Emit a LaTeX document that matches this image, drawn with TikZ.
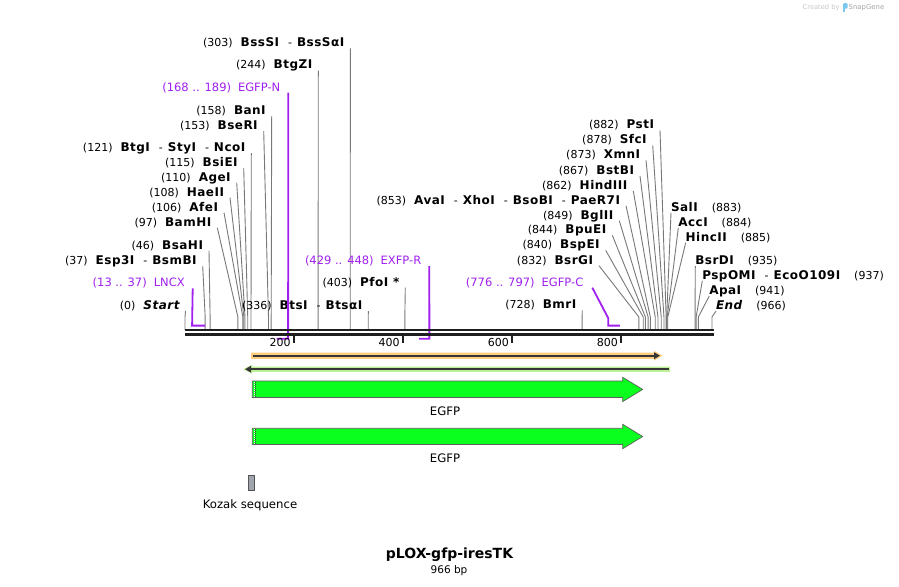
\documentclass[tikz,border=0pt]{standalone}
\usepackage{fontspec}
\setmainfont{DejaVu Sans}
\usetikzlibrary{calc,arrows.meta}
\definecolor{cutgray}{RGB}{120,120,120}
\definecolor{prim}{RGB}{160,32,240}
\definecolor{orangeband}{RGB}{255,204,128}
\definecolor{greenband}{RGB}{190,240,150}
\definecolor{egfpgreen}{RGB}{10,255,30}
\definecolor{darkline}{RGB}{55,55,55}
\definecolor{kozakgray}{RGB}{160,164,172}
\definecolor{sgray}{RGB}{200,200,200}
\definecolor{sblue}{RGB}{120,200,240}

\newcommand\enzn[1]{{\fontsize{12}{14}\selectfont\bfseries\addfontfeatures{LetterSpace=4}#1}}
\newcommand\esep{\hspace{9pt}-\hspace{5pt}}
\newcommand\nsep{\hspace{8pt}}
\newcommand\rsep{\hspace{14pt}}
\newcommand\bpx[1]{185+0.5455*#1}

% left-side cut site: id, bp, line-start x, label centre y, text
\newcommand\cutL[5]{%
  \node[lbl,anchor=base east] (#1) at ({#3-6},{#4+4.3}) {#5};
  \coordinate (#1p) at ({\bpx{#2}},317);
  \coordinate (#1q) at ({\bpx{#2}},330);
  \draw[cut] ($(#1.base east)+(6,1.7)$) -- (#1p) -- (#1q);
}
% right-side cut site
\newcommand\cutR[5]{%
  \node[lbl,anchor=base west] (#1) at (#3,{#4+4.3}) {#5};
  \coordinate (#1p) at ({\bpx{#2}},317);
  \coordinate (#1q) at ({\bpx{#2}},330);
  \draw[cut] ($(#1.base west)+(0,1.7)$) -- (#1p) -- (#1q);
}

\begin{document}
\begin{tikzpicture}[x=1pt,y=-1pt,
  lbl/.style={inner sep=0pt,outer sep=0pt,font=\fontsize{11}{13}\selectfont},
  plbl/.style={inner sep=0pt,outer sep=0pt,text=prim,font=\fontsize{11.5}{13}\selectfont},
  cut/.style={draw=cutgray,line width=0.9pt},
  primer/.style={draw=prim,line width=1.8pt},
  axisline/.style={draw=black!88,line width=2.4pt},
  tickmark/.style={draw=black!88,line width=2pt},
  feat/.style={fill=egfpgreen,draw=darkline!80,line width=0.7pt},
  flbl/.style={inner sep=0pt,font=\fontsize{11.7}{14}\selectfont}]

\useasboundingbox[fill=white] (0,0) rectangle (899,586);

% ---- cut sites, left-aligned labels ----
\cutL{bsssi}{303}{350.3}{42.3}{(303)\nsep\enzn{BssSI}\esep\enzn{BssSαI}}
\cutL{btgzi}{244}{318.3}{64.7}{(244)\nsep\enzn{BtgZI}}
\cutL{bani}{158}{271.7}{110}{(158)\nsep\enzn{BanI}}
\cutL{bseri}{153}{263.7}{125}{(153)\nsep\enzn{BseRI}}
\cutL{btgi}{121}{251.3}{147}{(121)\nsep\enzn{BtgI}\esep\enzn{StyI}\esep\enzn{NcoI}}
\cutL{bsiei}{115}{243.7}{162}{(115)\nsep\enzn{BsiEI}}
\cutL{agei}{110}{236.7}{176.7}{(110)\nsep\enzn{AgeI}}
\cutL{haeii}{108}{230}{191.7}{(108)\nsep\enzn{HaeII}}
\cutL{afei}{106}{224}{206.7}{(106)\nsep\enzn{AfeI}}
\cutL{bamhi}{97}{217.3}{221.7}{(97)\nsep\enzn{BamHI}}
\cutL{bsahi}{46}{209}{244.7}{(46)\nsep\enzn{BsaHI}}
\cutL{esp3i}{37}{202.7}{260}{(37)\nsep\enzn{Esp3I}\esep\enzn{BsmBI}}
\cutL{start}{0}{185.5}{305}{(0)\nsep\enzn{\itshape Start}}
\cutL{btsi}{336}{368.3}{305}{(336)\nsep\enzn{BtsI}\esep\enzn{BtsαI}}
\cutL{pfoi}{403}{405.3}{281.7}{(403)\nsep\enzn{PfoI *}}
\cutL{bmri}{728}{582.3}{304.3}{(728)\nsep\enzn{BmrI}}
\cutL{bsrgi}{832}{599}{259.7}{(832)\nsep\enzn{BsrGI}}
\cutL{bspei}{840}{605.7}{244.3}{(840)\nsep\enzn{BspEI}}
\cutL{bpuei}{844}{612.3}{229.3}{(844)\nsep\enzn{BpuEI}}
\cutL{bglii}{849}{619.3}{214.7}{(849)\nsep\enzn{BglII}}
\cutL{avai}{853}{626}{199.7}{(853)\nsep\enzn{AvaI}\esep\enzn{XhoI}\esep\enzn{BsoBI}\esep\enzn{PaeR7I}}
\cutL{hindiii}{862}{633.3}{185}{(862)\nsep\enzn{HindIII}}
\cutL{bstbi}{867}{640}{170}{(867)\nsep\enzn{BstBI}}
\cutL{xmni}{873}{646}{154.3}{(873)\nsep\enzn{XmnI}}
\cutL{sfci}{878}{652.7}{139.3}{(878)\nsep\enzn{SfcI}}
\cutL{psti}{882}{660}{124.3}{(882)\nsep\enzn{PstI}}

% ---- cut sites, right-aligned labels ----
\cutR{sali}{883}{671}{206.7}{\enzn{SalI}\rsep(883)}
\cutR{acci}{884}{678.3}{222}{\enzn{AccI}\rsep(884)}
\cutR{hincii}{885}{685.7}{236.7}{\enzn{HincII}\rsep(885)}
\cutR{bsrdi}{935}{695.3}{260}{\enzn{BsrDI}\rsep(935)}
\cutR{pspomi}{937}{702.3}{274.7}{\enzn{PspOMI}\esep\enzn{EcoO109I}\rsep(937)}
\cutR{apai}{941}{709.3}{290}{\enzn{ApaI}\rsep(941)}
\cutR{endsite}{966}{716}{305}{\enzn{\itshape End}\rsep(966)}

% ---- primers ----
\node[plbl,anchor=base east] (lncx) at (184.7,286.6) {(13 .. 37)\hspace{7pt}LNCX};
\coordinate (lncxA) at ({\bpx{13}},325.6);
\coordinate (lncxB) at ({\bpx{37}},325.6);
\draw[primer] ($(lncx.base east)+(8,1.7)$) -- (lncxA) -- (lncxB);

\node[plbl,anchor=base east] (egfpn) at (280.3,91) {(168 .. 189)\hspace{7pt}EGFP-N};
\coordinate (egfpnA) at ({\bpx{168}},338.7);
\coordinate (egfpnB) at ({\bpx{189}},338.7);
\draw[primer] ($(egfpn.base east)+(8,1.7)$) -- (egfpnB) -- (egfpnA);

\node[plbl,anchor=base east] (exfpr) at (421.3,264.3) {(429 .. 448)\hspace{7pt}EXFP-R};
\coordinate (exfprA) at ({\bpx{429}},338.7);
\coordinate (exfprB) at ({\bpx{448}},338.7);
\draw[primer] ($(exfpr.base east)+(8,1.7)$) -- (exfprB) -- (exfprA);

\node[plbl,anchor=base east] (egfpc) at (583.3,286) {(776 .. 797)\hspace{7pt}EGFP-C};
\coordinate (egfpcK) at ({\bpx{776}},318.3);
\coordinate (egfpcA) at ({\bpx{776}},325.6);
\coordinate (egfpcB) at ({\bpx{797}},325.6);
\draw[primer] ($(egfpc.base east)+(9,1.7)$) -- (egfpcK) -- (egfpcA) -- (egfpcB);

% ---- sequence axis ----
\coordinate (axL1) at (185,329.8);
\coordinate (axR1) at (714,329.8);
\coordinate (axL2) at (185,334.5);
\coordinate (axR2) at (714,334.5);
\draw[axisline] (axL1) -- (axR1);
\draw[axisline] (axL2) -- (axR2);
\foreach \p in {200,400,600,800}{
  \coordinate (tk\p) at ({\bpx{\p}},335.5);
  \draw[tickmark] (tk\p) -- ++(0,7.2);
  \node[lbl,anchor=base east] (tl\p) at ($(tk\p)+(-3.5,10.5)$) {\p};
}

% ---- ORF arrows ----
\fill[orangeband] (251,352.6) -- (654,352.6) -- (654,350.8) -- (662.6,355.7) -- (654,360.6) -- (654,358.8) -- (251,358.8) -- cycle;
\coordinate (orfA) at (253,355.7);
\coordinate (orfB) at (660,355.7);
\draw[darkline,line width=1.8pt,-{Triangle[length=6pt,width=6.5pt]}] (orfA) -- (orfB);

\fill[greenband] (670,366.6) -- (252,366.6) -- (252,364.8) -- (243.3,369.2) -- (252,373.6) -- (252,371.8) -- (670,371.8) -- cycle;
\coordinate (orf2A) at (669,369.2);
\coordinate (orf2B) at (245,369.2);
\draw[darkline,line width=1.8pt,-{Triangle[length=6pt,width=6.5pt]}] (orf2A) -- (orf2B);

% ---- EGFP features ----
\draw[feat] (252.3,381) -- (622.7,381) -- (622.7,377.3) -- (642.7,389.4) -- (622.7,401.6) -- (622.7,397.4) -- (252.3,397.4) -- cycle;
\draw[white,line width=0.8pt,dash pattern=on 1pt off 1pt] (254.2,381.5) -- (254.2,397);
\draw[darkline,line width=0.5pt,dash pattern=on 1pt off 1pt] (255.6,381.5) -- (255.6,397);
\node[flbl] (egfp1) at (445,411.7) {EGFP};

\draw[feat] (252.3,428.3) -- (622.7,428.3) -- (622.7,424.3) -- (642.7,436.5) -- (622.7,448.7) -- (622.7,444.5) -- (252.3,444.5) -- cycle;
\draw[white,line width=0.8pt,dash pattern=on 1pt off 1pt] (254.2,428.8) -- (254.2,444);
\draw[darkline,line width=0.5pt,dash pattern=on 1pt off 1pt] (255.6,428.8) -- (255.6,444);
\node[flbl] (egfp2) at (445,458.3) {EGFP};

% ---- Kozak ----
\draw[fill=kozakgray,draw=darkline!85,line width=0.7pt] (248.3,475.3) rectangle (254,490.7);
\node[flbl] (kozak) at (250,505) {Kozak sequence};

% ---- title ----
\node[inner sep=0pt,font=\fontsize{14}{16}\selectfont\bfseries] (title) at (449.5,554.5) {pLOX-gfp-iresTK};
\node[inner sep=0pt,font=\fontsize{10.5}{12}\selectfont] (bp) at (449,570.5) {966 bp};

% ---- watermark ----
\node[inner sep=0pt,anchor=west,text=sgray,font=\fontsize{6.7}{8}\selectfont] (created) at (802.5,7.5) {Created by};
\fill[sblue,rounded corners=1pt] (843.2,3.2) rectangle (847.6,8.6);
\fill[sblue] (843.2,6) rectangle (845,12);
\node[inner sep=0pt,anchor=west,text=black!35,font=\fontsize{6.9}{8}\selectfont] (snapgene) at (848.5,7.5) {SnapGene};
\end{tikzpicture}
\end{document}
